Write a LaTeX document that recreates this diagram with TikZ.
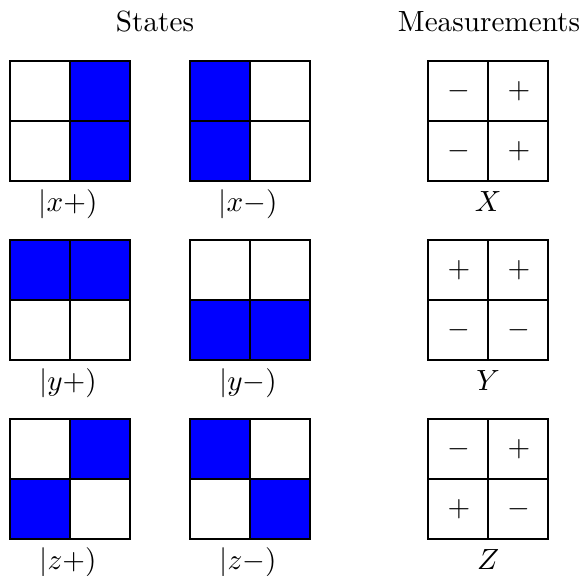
\documentclass[tikz,border=0pt]{standalone}
\usepackage{xcolor}
\usetikzlibrary{positioning, calc}

\begin{document}
\begin{tikzpicture}[x=0.3425pt, y=-0.3425pt,
    cellbox/.style={draw, line width=1pt},
    bluebox/.style={fill=blue},
    lbl/.style={anchor=base, font=\normalsize},
    sign/.style={font=\normalsize}]
    \useasboundingbox (0,0) rectangle (585,575);
    % titles
    \node[lbl] (states) at (155,32) {States};
    \node[lbl] (meas) at (489,32) {Measurements};
    % blue cells of the states
    \foreach \gx/\gy/\i/\j in {10/61/1/0, 10/61/1/1, 190/61/0/0, 190/61/0/1,
        10/240/0/0, 10/240/1/0, 190/240/0/1, 190/240/1/1,
        10/419/1/0, 10/419/0/1, 190/419/0/0, 190/419/1/1}
        \fill[bluebox] (\gx+60*\i,\gy+60*\j) rectangle ++(60,60);
    % cell borders
    \foreach \gx in {10,190,428}
        \foreach \gy in {61,240,419}
            \foreach \i in {0,1}
                \foreach \j in {0,1}
                    \draw[cellbox] (\gx+60*\i,\gy+60*\j) rectangle ++(60,60);
    % signs of the measurements
    \foreach \gy/\a/\b/\c/\d in {61/-/+/-/+, 240/+/+/-/-, 419/-/+/+/-} {
        \node[sign] at (459,\gy+30) {$\a$};
        \node[sign] at (519,\gy+30) {$\b$};
        \node[sign] at (459,\gy+90) {$\c$};
        \node[sign] at (519,\gy+90) {$\d$};
    }
    % labels
    \node[lbl] (xp) at (68,211) {$|x+)$};
    \node[lbl] (xm) at (248,211) {$|x-)$};
    \node[lbl] (mx) at (488,211) {$X$};
    \node[lbl] (yp) at (68,390) {$|y+)$};
    \node[lbl] (ym) at (248,390) {$|y-)$};
    \node[lbl] (my) at (488,390) {$Y$};
    \node[lbl] (zp) at (68,569) {$|z+)$};
    \node[lbl] (zm) at (248,569) {$|z-)$};
    \node[lbl] (mz) at (488,569) {$Z$};
\end{tikzpicture}
\end{document}
